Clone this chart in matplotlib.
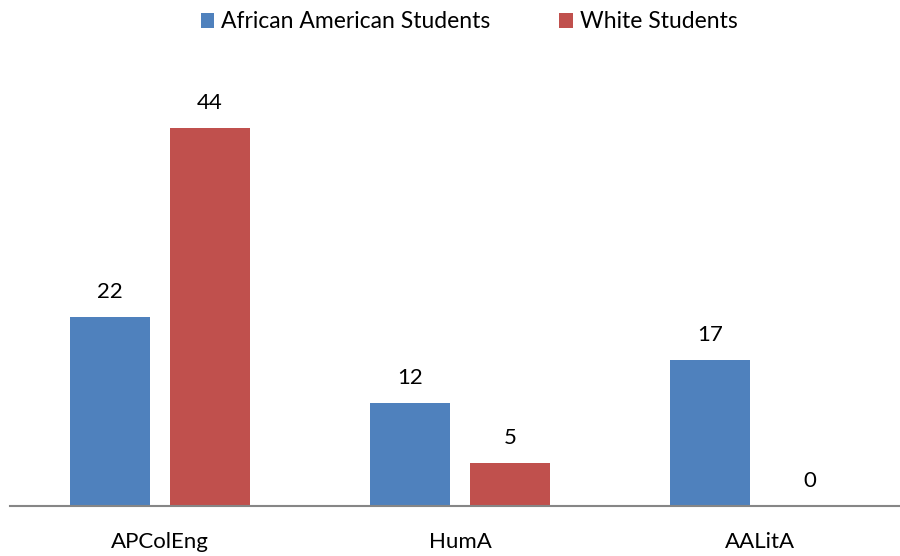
import matplotlib.pyplot as plt
import numpy as np

categories = ['APColEng', 'HumA', 'AALitA']
african_american = [22, 12, 17]
white = [44, 5, 0]
series_names = ['African American Students', 'White Students']

BLUE = '#4F81BD'
RED = '#C0504D'

plt.rcParams['font.family'] = ['Lato', 'DejaVu Sans']

fig = plt.figure(figsize=(9, 5.56), dpi=100)
# axes: left edge at 10px, baseline at 506px
ax = fig.add_axes([10 / 900, 50 / 556, 890 / 900, (556 - 50 - 50) / 556])

x = np.arange(len(categories))
w = 0.267
off = 0.167

b1 = ax.bar(x - off, african_american, w, color=BLUE, label=series_names[0])
b2 = ax.bar(x + off, white, w, color=RED, label=series_names[1])

for bars in (b1, b2):
    for r in bars:
        ax.annotate('%d' % r.get_height(),
                    (r.get_x() + r.get_width() / 2, r.get_height()),
                    xytext=(0, 11), textcoords='offset points',
                    ha='center', va='bottom', fontsize=16)

ax.set_xlim(-0.5, 2.467)
ax.set_ylim(0, 44 * 456 / 378)
ax.set_yticks([])
ax.set_xticks(x)
ax.set_xticklabels(categories, fontsize=16)
ax.tick_params(axis='x', length=0, pad=19)

for s in ['top', 'right', 'left']:
    ax.spines[s].set_visible(False)
ax.spines['bottom'].set_color('#868686')
ax.spines['bottom'].set_linewidth(1.5)

fig.legend(loc='center', bbox_to_anchor=(469 / 900, 1 - 22 / 556), ncol=2,
           frameon=False, fontsize=16.5, handlelength=0.6, handleheight=0.6,
           handletextpad=0.3, columnspacing=3.0)

fig.savefig('out.png', dpi=100)
